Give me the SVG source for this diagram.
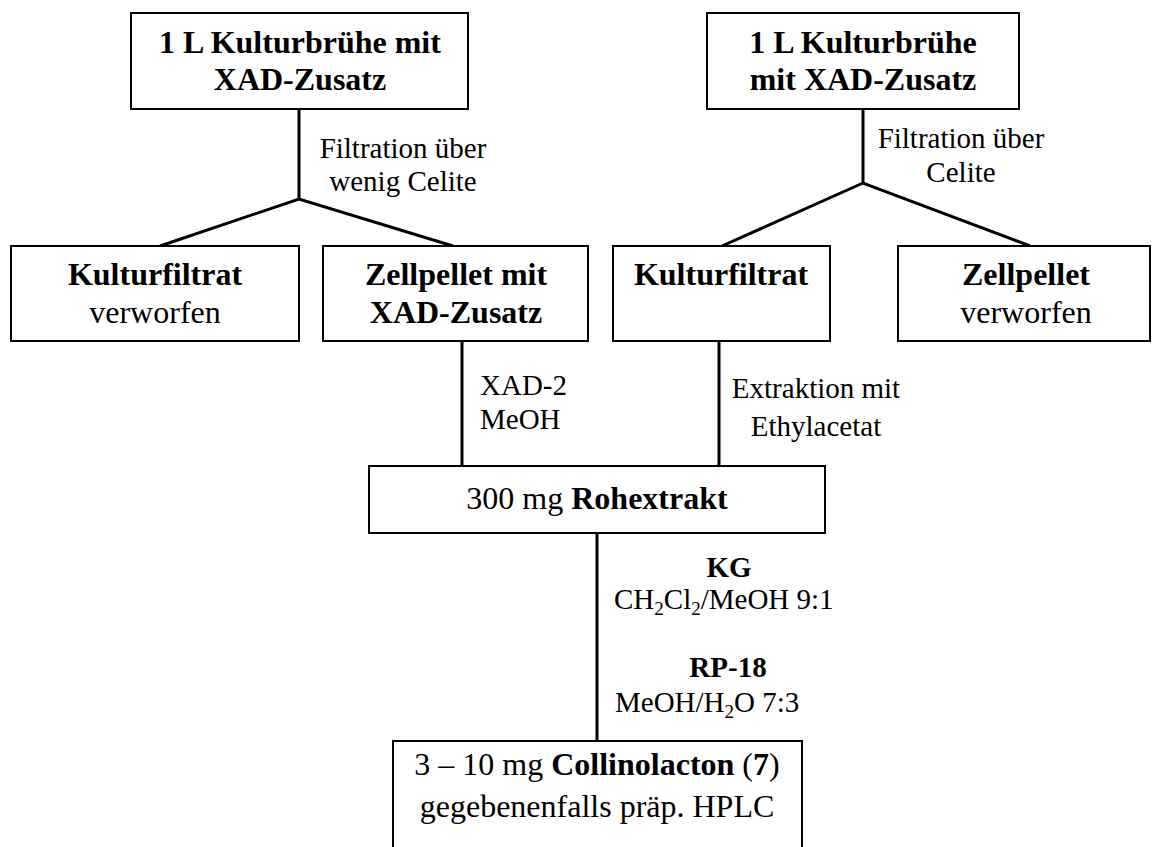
<svg xmlns="http://www.w3.org/2000/svg" width="1152" height="847" viewBox="0 0 1152 847">
<style>
  .box { fill: #ffffff; stroke: #000000; stroke-width: 2; }
  .conn { fill: none; stroke: #000000; stroke-width: 3; stroke-linejoin: miter; }
  text { font-family: "Liberation Serif", "Times New Roman", serif; fill: #000000; }
  .n { font-size: 32px; text-anchor: middle; }
  .lbl { font-size: 29px; }
  .b { font-weight: bold; }
</style>
<rect width="1152" height="847" fill="#ffffff"/>
<g id="connectors">
  <polyline class="conn" points="299,109 299,199"/>
  <polyline class="conn" points="160,246 299,199 453,246"/>
  <polyline class="conn" points="863,109 863,183"/>
  <polyline class="conn" points="722,246 863,183 1030,246"/>
  <line class="conn" x1="462" y1="341" x2="462" y2="466"/>
  <line class="conn" x1="719" y1="341" x2="719" y2="466"/>
  <line class="conn" x1="597" y1="533" x2="597" y2="741"/>
</g>
<g id="labels">
  <text class="lbl" x="403" y="158" text-anchor="middle">Filtration über</text>
  <text class="lbl" x="403" y="191" text-anchor="middle">wenig Celite</text>
  <text class="lbl" x="961" y="148" text-anchor="middle">Filtration über</text>
  <text class="lbl" x="961" y="182" text-anchor="middle">Celite</text>
  <text class="lbl" x="480" y="395">XAD-2</text>
  <text class="lbl" x="480" y="429">MeOH</text>
  <text class="lbl" x="816" y="398" text-anchor="middle">Extraktion mit</text>
  <text class="lbl" x="816" y="436" text-anchor="middle">Ethylacetat</text>
  <text class="lbl b" x="729" y="577" text-anchor="middle">KG</text>
  <text class="lbl" x="614" y="609">CH<tspan font-size="19" dy="6">2</tspan><tspan dy="-6">Cl</tspan><tspan font-size="19" dy="6">2</tspan><tspan dy="-6">/MeOH 9:1</tspan></text>
  <text class="lbl b" x="728" y="677" text-anchor="middle">RP-18</text>
  <text class="lbl" x="615" y="712">MeOH/H<tspan font-size="19" dy="6">2</tspan><tspan dy="-6">O 7:3</tspan></text>
</g>
<g id="node-broth1">
  <rect class="box" x="131" y="13" width="337" height="96"/>
  <text class="n b" x="300" y="53">1 L Kulturbrühe mit</text>
  <text class="n b" x="300" y="90">XAD-Zusatz</text>
</g>
<g id="node-broth2">
  <rect class="box" x="707" y="13" width="312" height="96"/>
  <text class="n b" x="863" y="53">1 L Kulturbrühe</text>
  <text class="n b" x="863" y="90">mit XAD-Zusatz</text>
</g>
<g id="node-filtrate1">
  <rect class="box" x="11" y="246" width="288" height="95"/>
  <text class="n b" x="155" y="285">Kulturfiltrat</text>
  <text class="n" x="155" y="323">verworfen</text>
</g>
<g id="node-pellet1">
  <rect class="box" x="323" y="246" width="265" height="95"/>
  <text class="n b" x="456" y="285">Zellpellet mit</text>
  <text class="n b" x="456" y="323">XAD-Zusatz</text>
</g>
<g id="node-filtrate2">
  <rect class="box" x="613" y="246" width="217" height="95"/>
  <text class="n b" x="721" y="285">Kulturfiltrat</text>
</g>
<g id="node-pellet2">
  <rect class="box" x="898" y="246" width="252" height="95"/>
  <text class="n b" x="1026" y="285">Zellpellet</text>
  <text class="n" x="1026" y="323">verworfen</text>
</g>
<g id="node-crude">
  <rect class="box" x="369" y="466" width="456" height="67"/>
  <text class="n" x="597" y="509">300 mg <tspan class="b">Rohextrakt</tspan></text>
</g>
<g id="node-product">
  <rect class="box" x="393" y="741" width="409" height="120"/>
  <text class="n" x="597" y="775">3 – 10 mg <tspan class="b">Collinolacton</tspan> (<tspan class="b">7</tspan>)</text>
  <text class="n" x="597" y="817">gegebenenfalls präp. HPLC</text>
</g>
</svg>
